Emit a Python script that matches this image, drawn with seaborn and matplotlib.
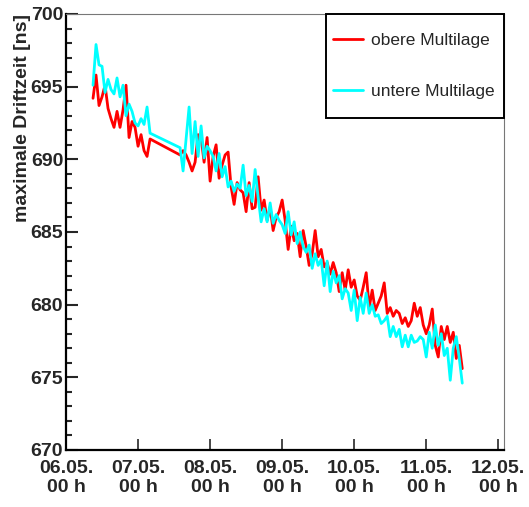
import matplotlib
matplotlib.use('Agg')
import matplotlib.pyplot as plt
import pandas as pd
import seaborn as sns
from matplotlib.patches import Rectangle

# hourly samples since 06.05. 00 h (readout gap between hour 28 and 38)
hours = list(range(9, 29)) + list(range(38, 133))

obere = [
    694.2, 695.8, 693.7, 694.3, 695.1, 693.5, 692.8, 692.2, 693.3, 692.2,
    693.4, 695.1, 691.5, 692.6, 692.2, 690.9, 691.7, 690.6, 690.2, 691.4,
    # after the gap
    690.3, 690.6, 690.3, 689.8, 689.2, 689.8, 691.7, 691.5, 689.8, 691.5,
    688.5, 690.2, 691.0, 688.7, 689.6, 690.3, 690.5, 688.1, 686.9, 688.4,
    687.9, 687.7, 686.4, 688.4, 686.6, 686.7, 688.8, 686.5, 687.2, 685.8,
    686.7, 685.1, 686.0, 686.4, 687.2, 685.8, 683.8, 685.4, 684.4, 684.9,
    683.3, 685.1, 684.0, 682.7, 683.5, 685.1, 683.3, 683.8, 682.6, 682.9,
    682.1, 682.9, 682.2, 680.9, 682.2, 681.0, 682.4, 681.2, 681.7, 680.6,
    680.3, 681.2, 682.2, 679.8, 681.0, 679.6, 680.1, 680.6, 681.5, 679.4,
    679.8, 679.2, 679.6, 679.4, 678.7, 679.1, 678.5, 678.9, 680.1, 679.2,
    679.8, 678.6, 678.0, 678.6, 679.7, 677.2, 676.4, 678.5, 677.6, 678.5,
    677.4, 678.1, 676.3, 677.2, 675.6,
]

untere = [
    695.1, 697.9, 696.5, 696.4, 694.6, 695.5, 694.8, 694.5, 695.6, 694.3,
    695.1, 693.0, 693.8, 693.3, 692.5, 692.3, 692.8, 692.4, 693.6, 691.8,
    # after the gap
    690.8, 689.2, 691.4, 693.6, 690.4, 692.6, 690.2, 692.3, 690.1, 690.9,
    690.6, 690.2, 689.2, 690.4, 688.8, 689.5, 688.1, 688.5, 687.8, 688.3,
    688.0, 689.6, 687.5, 688.2, 687.1, 689.3, 687.4, 685.7, 686.6, 685.7,
    687.0, 685.6, 686.2, 685.8, 685.5, 684.9, 686.4, 684.8, 685.7, 684.2,
    685.0, 684.0, 683.6, 684.1, 682.5, 683.5, 682.7, 683.1, 681.3, 683.0,
    680.9, 682.3, 681.5, 682.0, 680.4, 681.1, 680.8, 679.6, 681.0, 678.9,
    680.5, 679.4, 680.8, 679.4, 680.0, 679.2, 679.3, 678.7, 678.9, 679.2,
    677.8, 678.5, 677.8, 678.3, 677.1, 677.9, 677.1, 677.9, 677.4, 677.5,
    677.8, 677.6, 676.4, 678.1, 677.0, 678.6, 677.2, 678.0, 676.5, 677.0,
    674.8, 677.0, 677.8, 676.3, 674.6,
]

labels = ['obere Multilage', 'untere Multilage']
colors = {'obere Multilage': '#ff0000', 'untere Multilage': '#00ffff'}
day_ticks = pd.date_range('2008-05-06', '2008-05-12', freq='D')

start = pd.Timestamp('2008-05-06')
times = [start + pd.Timedelta(hours=h) for h in hours]
df = pd.concat([
    pd.DataFrame({'Zeit': times, 'Driftzeit': obere, 'Lage': labels[0]}),
    pd.DataFrame({'Zeit': times, 'Driftzeit': untere, 'Lage': labels[1]}),
])

sns.set_style('ticks')
plt.rcParams['font.family'] = ['Liberation Sans', 'DejaVu Sans']

fig = plt.figure(figsize=(5.29, 5.07), dpi=100)
ax = fig.add_axes([66 / 529, 57 / 507, 438 / 529, 436 / 507])

sns.lineplot(data=df, x='Zeit', y='Driftzeit', hue='Lage', palette=colors,
             estimator=None, sort=True, lw=2.0, legend=False, ax=ax)

ax.set_xlim(start, start + pd.Timedelta(hours=145.9))
ax.set_ylim(670, 700)
ax.set_xticks(day_ticks)
ax.set_xticklabels([d.strftime('%d.%m.') + '\n00 h' for d in day_ticks],
                   fontsize=14, fontweight='bold')
ax.set_yticks(range(670, 701, 5))
ax.set_yticks(range(670, 701, 1), minor=True)
ax.set_yticklabels([str(v) for v in range(670, 701, 5)], fontsize=14, fontweight='bold')
ax.tick_params(axis='y', which='major', direction='in', length=8.5, width=1.5, pad=2)
ax.tick_params(axis='y', which='minor', direction='in', length=4.5, width=1.5)
ax.tick_params(axis='x', which='major', direction='in', length=8, width=1.2, pad=7)
ax.set_xlabel('')
ax.set_ylabel('maximale Driftzeit [ns]', fontsize=14, fontweight='bold')
ax.yaxis.set_label_coords(-0.08, 1.0)
ax.yaxis.label.set_horizontalalignment('right')

for side in ['left', 'bottom']:
    ax.spines[side].set_linewidth(1.6)
    ax.spines[side].set_color('black')
for side in ['top', 'right']:
    ax.spines[side].set_visible(True)
    ax.spines[side].set_linewidth(0.8)
    ax.spines[side].set_color('#777777')

# legend box like the original (taller than wide padding allows)
box = Rectangle((0.5936, 0.7615), 0.4064, 0.2385, transform=ax.transAxes,
                facecolor='white', edgecolor='black', lw=1.4, clip_on=False, zorder=4)
ax.add_patch(box)
leg = ax.legend(ax.get_lines()[:2], labels, loc='center left', bbox_to_anchor=(0.6096, 0.8807),
                borderaxespad=0, borderpad=0, fontsize=12.5, frameon=False,
                handlelength=1.75, handletextpad=0.45, labelspacing=2.1)
leg.set_zorder(5)

fig.savefig('out.png', dpi=100)
